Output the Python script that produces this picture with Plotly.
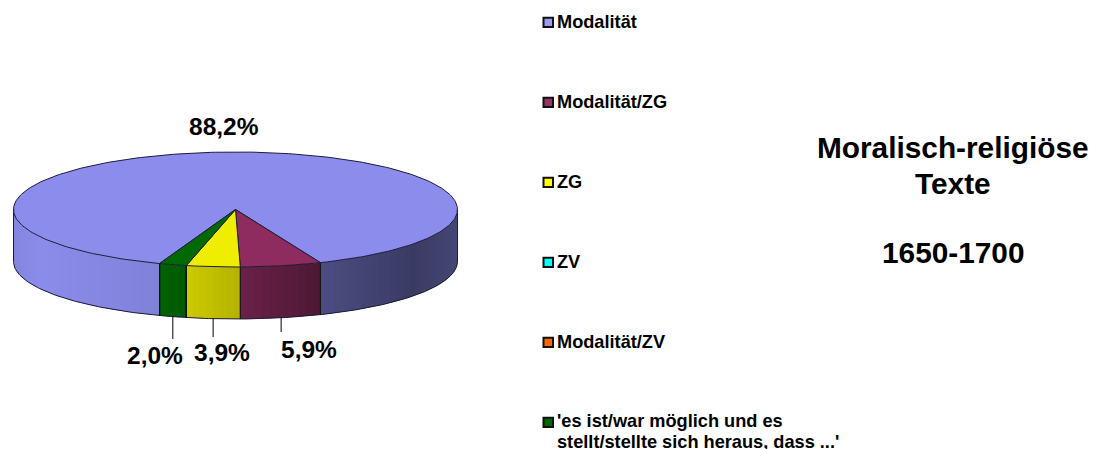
import numpy as np
import plotly.graph_objects as go

categories = ["Modalität", "Modalität/ZG", "ZG", "ZV", "Modalität/ZV",
              "'es ist/war möglich und es<br>stellt/stellte sich heraus, dass ...'"]
values = [88.2, 5.9, 3.9, 0.0, 0.0, 2.0]
value_labels = ["88,2%", "5,9%", "3,9%", "", "", "2,0%"]
colors = ["#8B8CEB", "#8E2C60", "#F0EE00", "#00E8F0", "#F06A10", "#006A00"]
legend_colors = ["#9999FF", "#993366", "#FFFF00", "#00FFFF", "#FF6600", "#006600"]
title_lines = ["Moralisch-religiöse", "Texte", "1650-1700"]

W, H = 1102, 449
CX, CY, RX, RY, DEPTH = 235.5, 209.5, 222.0, 57.5, 52.0
START_DEG = 200.0
EDGE = "#1c1c3a"
FONT = "Liberation Sans, Arial, sans-serif"
SHADE_X = [-1.0, -0.88, -0.34, -0.2, 0.0, 0.38, 0.8, 1.0]
SHADE_M = [0.95, 1.0, 0.92, 0.84, 0.76, 0.55, 0.42, 0.5]
LABEL_POS = {0: (224, 126), 1: (309, 349), 2: (222, 352), 5: (155, 355)}
LEADER_END = {1: 332, 2: 337, 5: 339}
LEGEND_SWATCH_Y = [22.4, 102.4, 182.4, 262.4, 342.4, 422.4]
LEGEND_TEXT_Y = [22, 102, 182, 262, 342, 421]
LEGEND_LINE_GAP = 21.0
TITLE_Y = [147, 183, 252]


def px(a):
    return CX + RX * np.sin(np.radians(a))


def py(a, dz=0.0):
    return CY - RY * np.cos(np.radians(a)) + dz


def shade(hex_col, x):
    m = float(np.interp((x - CX) / RX, SHADE_X, SHADE_M))
    r, g, b = (int(hex_col[i:i + 2], 16) for i in (1, 3, 5))
    return f"rgb({r * m:.0f},{g * m:.0f},{b * m:.0f})"


edges = START_DEG + 360.0 * np.cumsum([0.0] + values) / sum(values)
fig = go.Figure()


def add_poly(xs, ys, fill, line=None, width=1.0):
    fig.add_trace(go.Scatter(x=xs, y=ys, mode="lines", fill="toself", fillcolor=fill,
                             line=dict(color=line or fill, width=width),
                             hoverinfo="skip", showlegend=False))


def add_line(xs, ys, color=EDGE, width=1.0):
    fig.add_trace(go.Scatter(x=xs, y=ys, mode="lines", line=dict(color=color, width=width),
                             hoverinfo="skip", showlegend=False))


# side wall: lower half of the ellipse (angles 90..270), shaded strip by strip
for i, col in enumerate(colors):
    a0, a1 = edges[i], edges[i + 1]
    for shift in (0, -360):
        lo, hi = max(a0 + shift, 90), min(a1 + shift, 270)
        if hi <= lo:
            continue
        steps = np.linspace(lo, hi, max(2, int((hi - lo) / 2) + 2))
        for k, s0 in enumerate(steps[:-1]):
            s1 = steps[min(k + 2, len(steps) - 1)]  # overlap the next strip to hide seams
            xs = [px(s0), px(s1), px(s1), px(s0), px(s0)]
            ys = [py(s0), py(s1), py(s1, DEPTH), py(s0, DEPTH), py(s0)]
            xm = (px(s0) + px(steps[k + 1])) / 2
            add_poly(xs, ys, shade(col, xm), width=0)

# side wall outline and slice edges
low = np.linspace(90, 270, 181)
add_line(px(low), py(low, DEPTH))
add_line([px(90), px(90)], [py(90), py(90, DEPTH)])
add_line([px(270), px(270)], [py(270), py(270, DEPTH)])
for e in edges:
    a = e % 360
    if 90 < a < 270:
        add_line([px(a), px(a)], [py(a), py(a, DEPTH)], color="#141414", width=1.2)

# top face
for i, col in enumerate(colors):
    if values[i] <= 0:
        continue
    arc = np.linspace(edges[i], edges[i + 1], max(3, int(values[i] * 3.6)))
    xs = np.concatenate([[CX], px(arc), [CX]])
    ys = np.concatenate([[CY], py(arc), [CY]])
    add_poly(xs, ys, col, line=EDGE, width=1.0)

annotations = []
# value labels and leader lines
for i, lab in enumerate(value_labels):
    if not lab:
        continue
    x, y = LABEL_POS[i]
    annotations.append(dict(x=x, y=y, text=f"<b>{lab}</b>", showarrow=False,
                            xanchor="center", yanchor="middle",
                            font=dict(family=FONT, size=24.5, color="black")))
    if i in LEADER_END:
        mid = (edges[i] + edges[i + 1]) / 2
        add_line([px(mid), px(mid)], [py(mid, DEPTH), LEADER_END[i]], color="black", width=1.0)

# legend
shapes = []
for i, name in enumerate(categories):
    yc = LEGEND_SWATCH_Y[i]
    shapes.append(dict(type="rect", xref="x", yref="y", x0=543.5, x1=553, y0=yc - 4.7, y1=yc + 4.7,
                       fillcolor=legend_colors[i], line=dict(color="#111111", width=2)))
    for j, part in enumerate(name.split("<br>")):
        annotations.append(dict(x=554.5, y=LEGEND_TEXT_Y[i] + j * LEGEND_LINE_GAP, text=f"<b>{part}</b>",
                                showarrow=False, xanchor="left", yanchor="middle", align="left",
                                font=dict(family=FONT, size=18.2, color="black")))

# title
for line, y in zip(title_lines, TITLE_Y):
    annotations.append(dict(x=953, y=y, text=f"<b>{line}</b>", showarrow=False,
                            xanchor="center", yanchor="middle",
                            font=dict(family=FONT, size=29.8, color="black")))

fig.update_layout(
    width=W, height=H, margin=dict(l=0, r=0, t=0, b=0),
    paper_bgcolor="white", plot_bgcolor="white", showlegend=False,
    xaxis=dict(range=[0, W], visible=False, fixedrange=True),
    yaxis=dict(range=[H, 0], visible=False, fixedrange=True),
    annotations=annotations, shapes=shapes,
)
fig.write_html("out.html", config={"displayModeBar": False},
               post_script="document.body.style.margin='0';document.documentElement.style.overflow='hidden';")
